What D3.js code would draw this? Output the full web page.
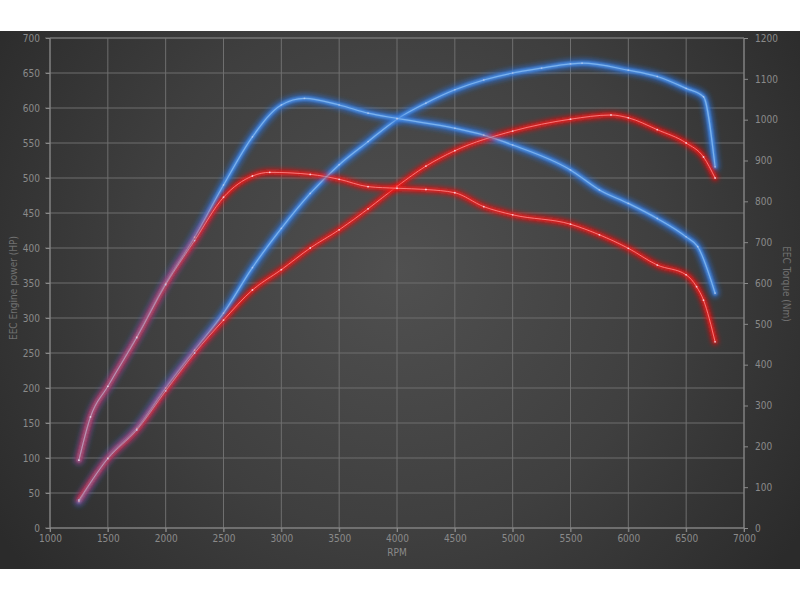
<!DOCTYPE html>
<html><head><meta charset="utf-8">
<script src="https://cdn.jsdelivr.net/npm/d3@7/dist/d3.min.js"></script>
<style>html,body{margin:0;padding:0;background:#fff;}svg{display:block;}</style>
</head><body>
<svg id="chart" width="800" height="600"></svg>
<script>
// ---- data ----
const rpmTicks = [1000,1500,2000,2500,3000,3500,4000,4500,5000,5500,6000,6500,7000];
const hpTicks = [0,50,100,150,200,250,300,350,400,450,500,550,600,650,700];
const nmTicks = [0,100,200,300,400,500,600,700,800,900,1000,1100,1200];

const tunedPowerRpm = [1250,1500,1750,2000,2250,2500,2750,3000,3250,3500,3750,4000,4250,4500,4750,5000,5250,5500,5600,6000,6250,6500,6650,6750];
const tunedPowerHp  = [38,100,142,200,254,307,372,428,478,519,552,584,607,626,640,650,657,663,664,654,645,628,616,516];

const stockPowerRpm = [1250,1500,1750,2000,2250,2500,2750,3000,3250,3500,3750,4000,4250,4500,5000,5500,5850,6000,6250,6500,6650,6750];
const stockPowerHp  = [40,99,140,196,250,297,340,369,400,426,456,488,517,539,567,584,590,586,569,550,530,500];

const tunedTorqueRpm = [1250,1350,1500,1750,2000,2250,2500,2750,3000,3200,3500,3750,4000,4500,4750,5000,5500,5750,6000,6250,6500,6600,6750];
const tunedTorqueNm  = [166,272,347,468,599,712,840,958,1036,1052,1036,1016,1003,979,962,938,877,828,795,758,713,689,575];

const stockTorqueRpm = [1250,1350,1500,1750,2000,2250,2500,2750,2900,3250,3500,3750,4000,4250,4500,4750,5000,5500,5750,6000,6250,6500,6590,6650,6750];
const stockTorqueNm  = [166,272,347,466,596,704,810,862,871,866,854,836,832,829,821,787,767,744,718,685,644,620,591,558,456];

// ---- layout ----
const svg = d3.select('#chart');
const L = 50, R = 744, T = 38, B = 528;
const x = d3.scaleLinear().domain([1000,7000]).range([L,R]);
const yHp = d3.scaleLinear().domain([0,700]).range([B,T]);
const yNm = d3.scaleLinear().domain([0,1200]).range([B,T]);

const defs = svg.append('defs');
const rg = defs.append('radialGradient').attr('id','bg')
  .attr('gradientUnits','userSpaceOnUse').attr('cx',400).attr('cy',270).attr('r',480);
rg.append('stop').attr('offset','0%').attr('stop-color','#505050');
rg.append('stop').attr('offset','55%').attr('stop-color','#3f3f3f');
rg.append('stop').attr('offset','100%').attr('stop-color','#2b2b2b');
const f = defs.append('filter').attr('id','glow').attr('x','-10%').attr('y','-10%').attr('width','120%').attr('height','120%');
f.append('feGaussianBlur').attr('stdDeviation',2.5);
const f2 = defs.append('filter').attr('id','soft').attr('x','-10%').attr('y','-10%').attr('width','120%').attr('height','120%');
f2.append('feGaussianBlur').attr('stdDeviation',0.8);

svg.append('rect').attr('x',0).attr('y',31).attr('width',800).attr('height',538).attr('fill','url(#bg)');

const font = '"Liberation Sans Narrow","DejaVu Sans Condensed","Liberation Sans",sans-serif';
const txt = '#8a8a8a';

// grid
const g = svg.append('g');
g.selectAll('.hg').data(hpTicks).join('line')
  .attr('x1',L-5).attr('x2',R).attr('y1',d=>yHp(d)).attr('y2',d=>yHp(d))
  .attr('stroke','#6f6f6f').attr('stroke-width',1);
g.selectAll('.vg').data(rpmTicks).join('line')
  .attr('x1',d=>x(d)).attr('x2',d=>x(d)).attr('y1',T).attr('y2',B+4)
  .attr('stroke','#6f6f6f').attr('stroke-width',1);
g.append('line').attr('x1',L).attr('x2',L).attr('y1',T).attr('y2',B).attr('stroke','#8a8a8a');
g.append('line').attr('x1',R).attr('x2',R).attr('y1',T).attr('y2',B).attr('stroke','#8a8a8a');
g.append('line').attr('x1',L).attr('x2',R).attr('y1',B).attr('y2',B).attr('stroke','#8a8a8a');
g.append('line').attr('x1',L).attr('x2',R).attr('y1',T).attr('y2',T).attr('stroke','#7a7a7a');

const axL = svg.append('g').attr('transform',`translate(${L},0)`)
  .call(d3.axisLeft(yHp).tickValues(hpTicks).tickFormat(d3.format('d')).tickSize(4).tickPadding(6));
const axR = svg.append('g').attr('transform',`translate(${R},0)`)
  .call(d3.axisRight(yNm).tickValues(nmTicks).tickFormat(d3.format('d')).tickSize(4).tickPadding(7));
const axB = svg.append('g').attr('transform',`translate(0,${B})`)
  .call(d3.axisBottom(x).tickValues(rpmTicks).tickFormat(d3.format('d')).tickSize(4).tickPadding(3));
[axL,axR,axB].forEach(a=>{
  a.select('.domain').remove();
  a.selectAll('line').attr('stroke','#8a8a8a');
  a.selectAll('text').attr('fill',txt).style('font-family',font).style('font-size','10px');
});

svg.append('text').attr('x',397).attr('y',556).attr('text-anchor','middle')
  .attr('fill',txt).style('font-family',font).style('font-size','10px').text('RPM');
svg.append('text').attr('transform','translate(17,288) rotate(-90)').attr('text-anchor','middle')
  .attr('fill','#707070').style('font-family',font).style('font-size','10px').text('EEC Engine power (HP)');
svg.append('text').attr('transform','translate(783,284) rotate(90)').attr('text-anchor','middle')
  .attr('fill','#707070').style('font-family',font).style('font-size','10px').text('EEC Torque (Nm)');

// curves
function series(rpms, vals, yS){ return rpms.map((r,i)=>[x(r), yS(vals[i])]); }
const line = d3.line().curve(d3.curveMonotoneX);
const blueCurves = [series(tunedPowerRpm,tunedPowerHp,yHp), series(tunedTorqueRpm,tunedTorqueNm,yNm)];
const redCurves = [series(stockPowerRpm,stockPowerHp,yHp), series(stockTorqueRpm,stockTorqueNm,yNm)];
const sty = {
  blue:{glow:'#2a70d8', main:'#4a8ce0', core:'#80b6f0', gw:9, mw:3.6, cw:1.2, go:0.7, mo:0.9},
  red:{glow:'#ff1010', main:'#e41c1c', core:'#ff8c8c', gw:6, mw:2.4, cw:0.9, go:0.8, mo:0.9}
};
const cg = svg.append('g');
function draw(pts, s, opts){
  const d = line(pts);
  const gg = cg.append('g').attr('opacity', opts.op || 1);
  if (opts.glow) gg.append('path').attr('d',d).attr('fill','none').attr('stroke',s.glow)
    .attr('stroke-width',s.gw).attr('stroke-opacity',s.go).attr('filter','url(#glow)').attr('stroke-linecap','round');
  gg.append('path').attr('d',d).attr('fill','none').attr('stroke',s.main)
    .attr('stroke-width',s.mw).attr('stroke-opacity',s.mo).attr('filter','url(#soft)').attr('stroke-linecap','round');
  gg.append('path').attr('d',d).attr('fill','none').attr('stroke',s.core)
    .attr('stroke-width',s.cw).attr('stroke-opacity',0.9).attr('stroke-linecap','round');
  if (opts.dots) gg.selectAll(null).data(pts).join('circle').attr('cx',p=>p[0]).attr('cy',p=>p[1]).attr('r',0.9)
    .attr('fill','#f4e4f0').attr('opacity',0.8);
}
blueCurves.forEach(p=>draw(p, sty.blue, {glow:true, dots:false}));
redCurves.forEach(p=>draw(p, sty.red, {glow:true, dots:true}));
// translucent blue overlay so overlapping stretches blend to violet
blueCurves.forEach(p=>draw(p, sty.blue, {glow:false, dots:true, op:0.5}));
</script>
</body></html>
